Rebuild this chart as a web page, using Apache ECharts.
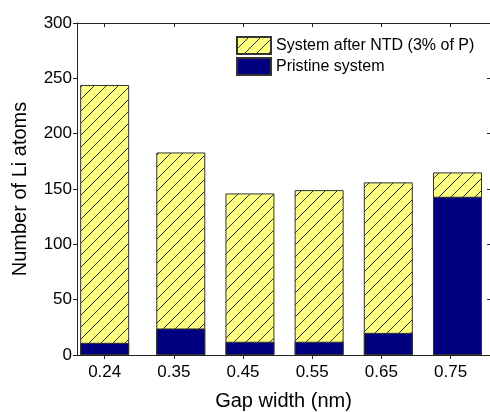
<!DOCTYPE html>
<html>
<head>
<meta charset="utf-8">
<script src="https://cdn.jsdelivr.net/npm/echarts@6/dist/echarts.min.js"></script>
<style>html,body{margin:0;padding:0;background:#fff}#c{width:490px;height:412px}</style>
</head>
<body>
<div id="c"></div>
<script>
var gapWidths = [0.24, 0.35, 0.45, 0.55, 0.65, 0.75];
var afterNTD = [244, 183, 146, 149, 156, 165];
var pristine = [11, 24, 12, 12, 20, 143];
var tickValues = [0.24, 0.34, 0.44, 0.54, 0.64, 0.74];
var tickLabels = ['0.24', '0.35', '0.45', '0.55', '0.65', '0.75'];
var seriesNames = ['System after NTD (3% of P)', 'Pristine system'];

function hatch() {
  var s = 12, c = document.createElement('canvas');
  c.width = s; c.height = s;
  var g = c.getContext('2d');
  g.fillStyle = '#ffff80'; g.fillRect(0, 0, s, s);
  g.strokeStyle = '#333'; g.lineWidth = 1;
  g.beginPath();
  g.moveTo(-1, s + 1); g.lineTo(s + 1, -1);
  g.moveTo(-1, 1); g.lineTo(1, -1);
  g.moveTo(s - 1, s + 1); g.lineTo(s + 1, s - 1);
  g.stroke();
  return c;
}

var font = 'Liberation Sans, Arial, sans-serif';
var chart = echarts.init(document.getElementById('c'));
function pairs(vals) { return gapWidths.map(function (x, i) { return [x, vals[i]]; }); }
function lab(v) {
  for (var i = 0; i < tickValues.length; i++) if (Math.abs(tickValues[i] - v) < 1e-6) return tickLabels[i];
  return '';
}
var lineStyle = { color: '#222', width: 1 };
chart.setOption({
  animation: false,
  grid: { left: 77, top: 23, right: 0, bottom: 57, containLabel: false, outerBoundsMode: 'none' },
  legend: {
    left: 236, top: 36, padding: 0, orient: 'vertical', itemWidth: 34, itemHeight: 17, itemGap: 2,
    icon: 'rect',
    textStyle: { fontFamily: font, fontSize: 16, color: '#000' },
    data: seriesNames
  },
  xAxis: [{
    type: 'value', min: 0.2, max: 0.797, position: 'bottom',
    name: 'Gap width (nm)', nameLocation: 'middle', nameGap: 36,
    nameTextStyle: { fontFamily: font, fontSize: 20, color: '#000' },
    axisLine: { onZero: false, lineStyle: lineStyle },
    axisTick: { show: true, length: 4, customValues: tickValues, lineStyle: lineStyle },
    axisLabel: { customValues: tickValues, formatter: lab, fontFamily: font, fontSize: 17, color: '#000', margin: 9 },
    splitLine: { show: false }
  }, {
    type: 'value', min: 0.2, max: 0.797, position: 'top',
    axisLine: { show: true, onZero: false, lineStyle: lineStyle },
    axisTick: { show: true, inside: true, length: 4, customValues: tickValues, lineStyle: lineStyle },
    axisLabel: { show: false },
    splitLine: { show: false }
  }],
  yAxis: [{
    type: 'value', min: 0, max: 300, interval: 50, position: 'left',
    name: 'Number of Li atoms', nameLocation: 'middle', nameGap: 47,
    nameTextStyle: { fontFamily: font, fontSize: 20, color: '#000' },
    axisLine: { show: true, onZero: false, lineStyle: lineStyle },
    axisTick: { show: true, length: 4, lineStyle: lineStyle },
    axisLabel: { fontFamily: font, fontSize: 17, color: '#000', margin: 5 },
    splitLine: { show: false }
  }, {
    type: 'value', min: 0, max: 300, interval: 50, position: 'right',
    axisLine: { show: false, onZero: false, lineStyle: lineStyle },
    axisTick: { show: true, inside: true, length: 3, lineStyle: lineStyle },
    axisLabel: { show: false },
    splitLine: { show: false }
  }],
  series: [{
    name: seriesNames[0], type: 'bar', xAxisIndex: 0, yAxisIndex: 0,
    barWidth: 49, barGap: '-100%',
    itemStyle: { color: { image: hatch(), repeat: 'repeat' }, borderColor: '#333', borderWidth: 1 },
    data: pairs(afterNTD)
  }, {
    name: seriesNames[1], type: 'bar', xAxisIndex: 0, yAxisIndex: 0,
    barWidth: 49, barGap: '-100%',
    itemStyle: { color: '#000080', borderColor: '#333', borderWidth: 1 },
    data: pairs(pristine)
  }]
});
</script>
</body>
</html>
